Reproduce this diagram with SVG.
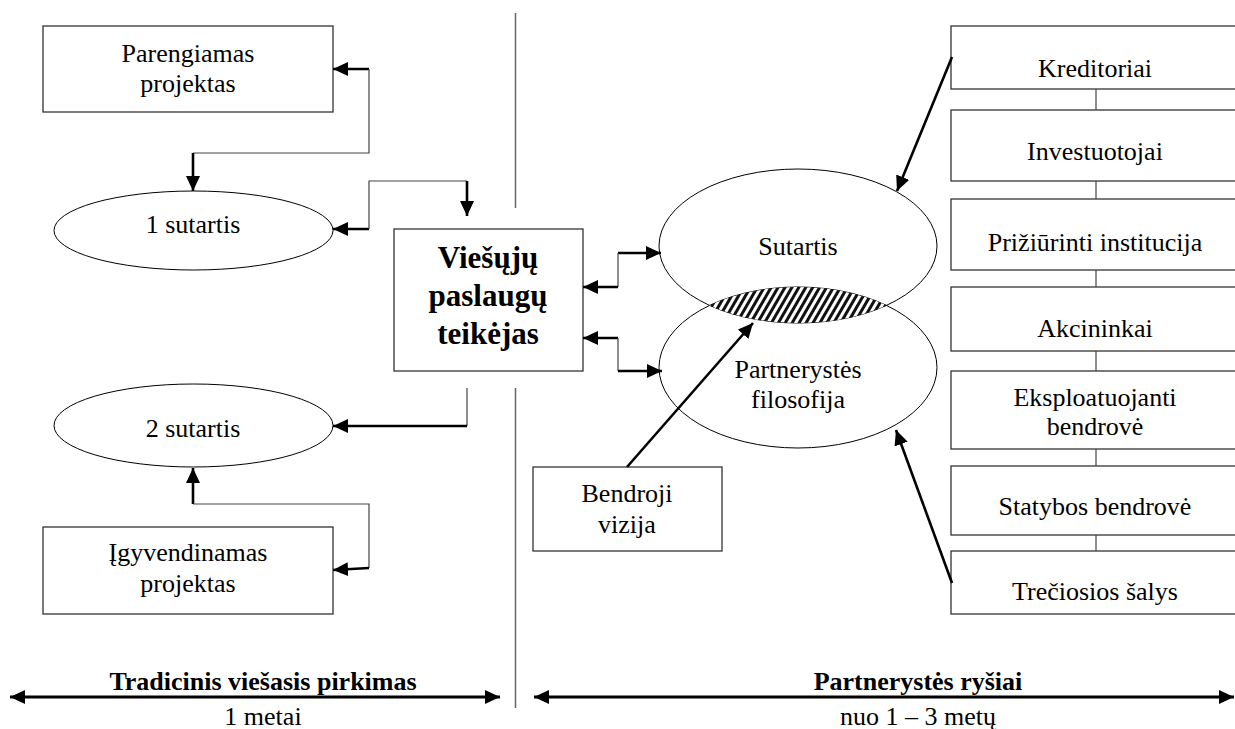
<svg xmlns="http://www.w3.org/2000/svg" width="1235" height="729" viewBox="0 0 1235 729">
  <style>
    .txt { font-size: 26px; fill: #000; text-anchor: middle; }
    .bold { font-weight: bold; }
    .big { font-size: 31px; }
    .box { fill: #fff; stroke: #333; stroke-width: 1.3; }
    .oval { fill: none; stroke: #000; stroke-width: 1; }
    .thin { fill: none; stroke: #444; stroke-width: 1.2; }
    .thick { fill: none; stroke: #000; stroke-width: 2.6; marker-end: url(#head); }
    .link { fill: none; stroke: #444; stroke-width: 1.2; }
    .span { fill: none; stroke: #000; stroke-width: 3; marker-start: url(#head); marker-end: url(#head); }
    .divider { stroke: #666; stroke-width: 1.5; }
  </style>
  <defs>
    <marker id="head" markerUnits="userSpaceOnUse" markerWidth="16" markerHeight="14" refX="15" refY="7" orient="auto-start-reverse">
      <path d="M0,0 L15,7 L0,14 Z" fill="#000"/>
    </marker>
    <pattern id="hatch" patternUnits="userSpaceOnUse" width="6" height="6" patternTransform="rotate(30)">
      <rect width="6" height="6" fill="#fff"/>
      <rect width="3" height="6" fill="#111"/>
    </pattern>
    <clipPath id="upperOval">
      <ellipse cx="798" cy="246" rx="139" ry="77"/>
    </clipPath>
  </defs>

  <rect width="1235" height="729" fill="#fff"/>

  <!-- divider between the two halves -->
  <line class="divider" x1="515.5" y1="13" x2="515.5" y2="208"/>
  <line class="divider" x1="515.5" y1="388" x2="515.5" y2="708"/>

  <g font-family="Liberation Serif, Times New Roman, serif">
  <!-- left half -->
  <g id="parengiamas">
    <rect class="box" x="43" y="26" width="290" height="86"/>
    <text class="txt" x="188" y="62">Parengiamas</text>
    <text class="txt" x="188" y="92">projektas</text>
  </g>
  <g id="sutartis1">
    <ellipse class="oval" cx="193.5" cy="230.5" rx="139.5" ry="39.5"/>
    <text class="txt" x="193" y="233">1 sutartis</text>
  </g>
  <g id="teikejas">
    <rect class="box" x="394" y="229" width="189" height="142"/>
    <text class="txt bold big" x="488" y="268">Viešųjų</text>
    <text class="txt bold big" x="488" y="306">paslaugų</text>
    <text class="txt bold big" x="488" y="344">teikėjas</text>
  </g>
  <g id="sutartis2">
    <ellipse class="oval" cx="193.5" cy="425.5" rx="139.5" ry="41.5"/>
    <text class="txt" x="193" y="437">2 sutartis</text>
  </g>
  <g id="igyvendinamas">
    <rect class="box" x="43" y="527" width="290" height="87"/>
    <text class="txt" x="188" y="561">Įgyvendinamas</text>
    <text class="txt" x="188" y="592">projektas</text>
  </g>

  <!-- right half: contract / partnership ovals -->
  <g id="sutartis">
    <ellipse class="oval" cx="798" cy="246" rx="139" ry="77"/>
    <text class="txt" x="798" y="255">Sutartis</text>
  </g>
  <g id="partnerystes-filosofija">
    <ellipse class="oval" cx="798" cy="367.5" rx="139" ry="80.5"/>
    <text class="txt" x="798" y="378">Partnerystės</text>
    <text class="txt" x="798" y="408">filosofija</text>
  </g>
  <g id="overlap">
    <ellipse cx="798" cy="367.5" rx="139" ry="80.5" fill="url(#hatch)" clip-path="url(#upperOval)"/>
  </g>
  <g id="bendroji-vizija">
    <rect class="box" x="533" y="467" width="189" height="84"/>
    <text class="txt" x="627" y="502">Bendroji</text>
    <text class="txt" x="627" y="533">vizija</text>
  </g>

  <!-- stakeholder column -->
  <g id="kreditoriai">
    <rect class="box" x="951" y="26" width="300" height="63"/>
    <text class="txt" x="1095" y="77">Kreditoriai</text>
  </g>
  <g id="investuotojai">
    <rect class="box" x="951" y="110" width="300" height="71"/>
    <text class="txt" x="1095" y="160">Investuotojai</text>
  </g>
  <g id="priziurinti">
    <rect class="box" x="951" y="199" width="300" height="71"/>
    <text class="txt" x="1095" y="251">Prižiūrinti institucija</text>
  </g>
  <g id="akcininkai">
    <rect class="box" x="951" y="287" width="300" height="64"/>
    <text class="txt" x="1095" y="337">Akcininkai</text>
  </g>
  <g id="eksploatuojanti">
    <rect class="box" x="951" y="371" width="300" height="78"/>
    <text class="txt" x="1095" y="406">Eksploatuojanti</text>
    <text class="txt" x="1095" y="435">bendrovė</text>
  </g>
  <g id="statybos">
    <rect class="box" x="951" y="466" width="300" height="69"/>
    <text class="txt" x="1095" y="515">Statybos bendrovė</text>
  </g>
  <g id="treciosios">
    <rect class="box" x="951" y="551" width="300" height="63"/>
    <text class="txt" x="1095" y="600">Trečiosios šalys</text>
  </g>

  <!-- time spans -->
  <g id="span-left">
    <path class="span" d="M10,697 H500"/>
    <text class="txt bold" x="263" y="690">Tradicinis viešasis pirkimas</text>
    <text class="txt" x="263" y="725">1 metai</text>
  </g>
  <g id="span-right">
    <path class="span" d="M534,697 H1234"/>
    <text class="txt bold" x="918" y="690">Partnerystės ryšiai</text>
    <text class="txt" x="918" y="725">nuo 1 – 3 metų</text>
  </g>
  </g>

  <!-- connectors -->
  <g id="connectors">
    <!-- Parengiamas projektas / 1 sutartis -->
    <path class="thick" d="M369,69 H333"/>
    <path class="thin" d="M369,69 V153 H193"/>
    <path class="thick" d="M193,153 V191"/>
    <!-- 1 sutartis / service provider -->
    <path class="thick" d="M369,229 H333"/>
    <path class="thin" d="M369,229 V181 H467"/>
    <path class="thick" d="M467,181 V216"/>
    <!-- service provider to 2 sutartis -->
    <path class="thin" d="M467,388 V426"/>
    <path class="thick" d="M467,426 H333"/>
    <!-- Įgyvendinamas projektas / 2 sutartis -->
    <path class="thick" d="M193,504 V468"/>
    <path class="thin" d="M193,504 H369 V568"/>
    <path class="thick" d="M369,568 L333,570"/>
    <!-- service provider / Sutartis -->
    <path class="thick" d="M618,253 H661"/>
    <path class="thin" d="M618,253 V287"/>
    <path class="thick" d="M618,287 H583"/>
    <!-- service provider / Partnerystės filosofija -->
    <path class="thick" d="M618,338 H583"/>
    <path class="thin" d="M618,338 V371"/>
    <path class="thick" d="M618,371 H662"/>
    <!-- pointers into the ovals -->
    <path class="thick" d="M952,57 L897,191"/>
    <path class="thick" d="M627,467 L753,323"/>
    <path class="thick" d="M952,583 L896,430"/>
    <!-- links down the stakeholder column -->
    <path class="link" d="M1096,89 V110 M1096,181 V199 M1096,270 V287 M1096,351 V371 M1096,449 V466 M1096,535 V551"/>
  </g>
</svg>
